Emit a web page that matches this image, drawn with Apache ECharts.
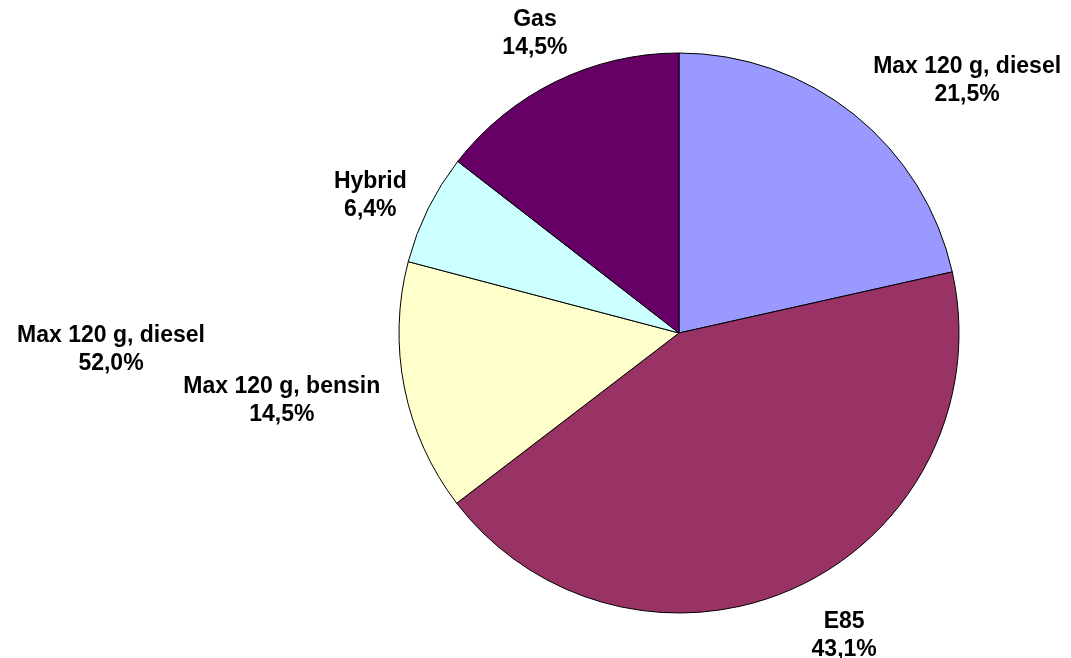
<!DOCTYPE html>
<html>
<head>
<meta charset="utf-8">
<script src="https://cdn.jsdelivr.net/npm/echarts@6/dist/echarts.min.js"></script>
<style>
  html, body { margin: 0; padding: 0; background: #fff; }
  #main { width: 1071px; height: 658px; }
</style>
</head>
<body>
<div id="main"></div>
<script>
// 数据
const categories = ['Max 120 g, diesel', 'E85', 'Max 120 g, bensin', 'Hybrid', 'Gas'];
const shares = [21.5, 43.1, 14.5, 6.4, 14.5];
const colors = ['#9999FF', '#993366', '#FFFFCC', '#CCFFFF', '#660066'];
// 图外多出来的标签
const strayLabel = 'Max 120 g, diesel';
const strayValue = 52.0;

const cx = 679;
const cy = 333;
const r = 280;
const gap = 17;
// 标签微调 (px)
const labelNudge = [[52, 42], [23, -2], [-6, -11], [-2, 14], [4, 3]];
const total = shares.reduce((a, b) => a + b, 0);

function fmt(v) {
  return v.toFixed(1).replace('.', ',') + '%';
}

const font = 'Liberation Sans, Arial, sans-serif';
const myChart = echarts.init(document.getElementById('main'));

const option = {
  backgroundColor: '#fff',
  animation: false,
  graphic: [
    {
      type: 'text',
      x: 111,
      y: 350,
      style: {
        text: strayLabel + '\n' + fmt(strayValue),
        font: 'bold 23px ' + font,
        lineHeight: 28,
        fill: '#000',
        align: 'center',
        verticalAlign: 'middle'
      }
    }
  ],
  series: [
    {
      type: 'pie',
      center: [cx, cy],
      radius: r,
      startAngle: 90,
      clockwise: true,
      avoidLabelOverlap: false,
      itemStyle: {
        borderColor: '#000',
        borderWidth: 1
      },
      label: {
        show: true,
        position: 'outside',
        color: '#000',
        fontFamily: font,
        fontWeight: 'bold',
        fontSize: 23,
        lineHeight: 28,
        align: 'center',
        formatter: p => p.name + '\n' + fmt(p.value)
      },
      labelLine: { show: false },
      // 标签放在扇区中线方向外侧
      labelLayout: params => {
        const i = params.dataIndex;
        let before = 0;
        for (let k = 0; k < i; k++) before += shares[k];
        const mid = (before + shares[i] / 2) / total * Math.PI * 2;
        const dx = Math.sin(mid);
        const dy = -Math.cos(mid);
        const w = params.labelRect.width;
        const h = params.labelRect.height;
        const d = r + gap + Math.abs(dx) * w / 2 + Math.abs(dy) * h / 2;
        return {
          x: cx + dx * d + labelNudge[i][0],
          y: cy + dy * d + labelNudge[i][1],
          align: 'center',
          verticalAlign: 'middle',
          hideOverlap: false
        };
      },
      data: categories.map((name, i) => ({
        name: name,
        value: shares[i],
        itemStyle: { color: colors[i] }
      }))
    }
  ]
};
myChart.setOption(option);
</script>
</body>
</html>
